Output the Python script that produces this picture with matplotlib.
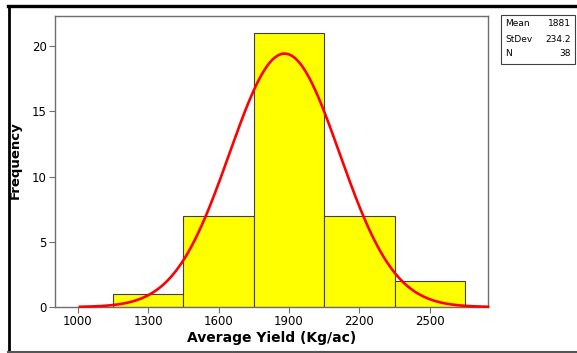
import numpy as np
import matplotlib
matplotlib.use("Agg")
import matplotlib.pyplot as plt
from matplotlib.patches import Rectangle
from matplotlib.lines import Line2D

# === Data ===
bin_edges = [1150, 1450, 1750, 2050, 2350, 2650]
counts = [1, 7, 21, 7, 2]
mean = 1881
stdev = 234.2
n_obs = 38
x_ticks = [1000, 1300, 1600, 1900, 2200, 2500]
y_ticks = [0, 5, 10, 15, 20]

SPINE = "#6e6e6e"
W, H = 577, 353

fig = plt.figure(figsize=(5.77, 3.53), dpi=100)
ax = fig.add_axes([55 / W, 46 / H, 433 / W, 291 / H])

# histogram bars
widths = np.diff(bin_edges)
ax.bar(bin_edges[:-1], counts, width=widths, align="edge",
       color="#ffff00", edgecolor="#404040", linewidth=0.8, zorder=2)

# fitted normal curve scaled to counts
xs = np.linspace(1010, 2747, 400)
bw = widths[0]
pdf = np.exp(-0.5 * ((xs - mean) / stdev) ** 2) / (stdev * np.sqrt(2 * np.pi))
ax.plot(xs, n_obs * bw * pdf, color="red", lw=1.9, zorder=3, clip_on=False)

ax.set_xlim(904, 2747)
ax.set_ylim(0, 22.3)
ax.set_xticks(x_ticks)
ax.set_yticks(y_ticks)
ax.tick_params(direction="out", length=4, width=0.8, color=SPINE,
               labelsize=8.5, pad=2)
for s in ax.spines.values():
    s.set_color(SPINE)
    s.set_linewidth(1.0)

ax.set_xlabel("Average Yield (Kg/ac)", fontsize=10, fontweight="bold", labelpad=2)
fig.text(15 / W, 1 - 160 / H, "Frequency", fontsize=9.5, fontweight="bold",
         rotation=90, ha="center", va="center")

# stats box
fig.patches.append(Rectangle((501 / W, 1 - 64 / H), 74 / W, 49 / H,
                             transform=fig.transFigure, fill=False,
                             edgecolor="#404040", lw=0.8))
rows = [("Mean", f"{mean}"), ("StDev", f"{stdev}"), ("N", f"{n_obs}")]
for i, (k, v) in enumerate(rows):
    yy = 1 - (24 + i * 15) / H
    fig.text(505 / W, yy, k, fontsize=6.5, va="center", ha="left")
    fig.text(571 / W, yy, v, fontsize=6.5, va="center", ha="right")

# outer frame: top and left black, bottom gray
fig.lines.append(Line2D([8 / W, 1], [1 - 6 / H, 1 - 6 / H],
                        transform=fig.transFigure, color="black", lw=2.4))
fig.lines.append(Line2D([9 / W, 9 / W], [1 - 6 / H, 1 / H],
                        transform=fig.transFigure, color="black", lw=2.0))
fig.lines.append(Line2D([8 / W, 1], [1 / H, 1 / H],
                        transform=fig.transFigure, color="#555555", lw=1.5))

fig.savefig("out.png", dpi=100)
